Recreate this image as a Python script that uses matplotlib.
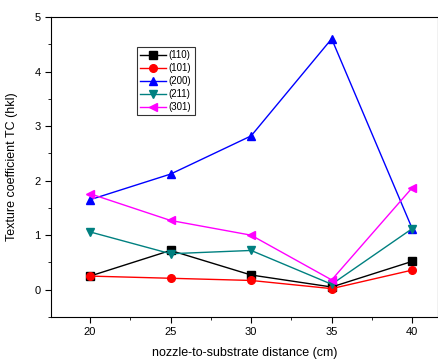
import matplotlib
matplotlib.use("Agg")
import matplotlib.pyplot as plt
from matplotlib.ticker import MultipleLocator

plt.rcParams['font.family'] = ['Liberation Sans', 'DejaVu Sans']

distance = [20, 25, 30, 35, 40]
tc_110 = [0.25, 0.72, 0.27, 0.05, 0.52]
tc_101 = [0.25, 0.21, 0.17, 0.02, 0.36]
tc_200 = [1.65, 2.12, 2.82, 4.60, 1.12]
tc_211 = [1.06, 0.66, 0.72, 0.10, 1.12]
tc_301 = [1.76, 1.27, 1.00, 0.18, 1.87]

labels = ['(110)', '(101)', '(200)', '(211)', '(301)']
colors = ['black', 'red', 'blue', '#008080', 'magenta']
markers = ['s', 'o', '^', 'v', '<']
series = [tc_110, tc_101, tc_200, tc_211, tc_301]

fig = plt.figure(figsize=(4.39, 3.6), dpi=100)
ax = fig.add_axes([51/439, 1 - 317/360, 387/439, 300/360])

for vals, lab, c, m in zip(series, labels, colors, markers):
    ax.plot(distance, vals, color=c, marker=m, markersize=5.5, linewidth=1, label=lab)

ax.set_xlim(17.58, 41.6)
ax.set_ylim(-0.5, 5)
ax.xaxis.set_major_locator(MultipleLocator(5))
ax.xaxis.set_minor_locator(MultipleLocator(2.5))
ax.yaxis.set_major_locator(MultipleLocator(1))
ax.yaxis.set_minor_locator(MultipleLocator(0.5))
ax.set_yticks([0, 1, 2, 3, 4, 5])
ax.tick_params(which='both', direction='out', labelsize=8, top=False, right=False)
ax.tick_params(which='major', length=4)
ax.tick_params(which='minor', length=2.5)

ax.set_xlabel('nozzle-to-substrate distance (cm)', fontsize=9, labelpad=7)
ax.set_ylabel('Texture coefficient TC (hkl)', fontsize=9, labelpad=12)

leg = ax.legend(loc='upper left', bbox_to_anchor=(0.222, 0.9), fontsize=7,
                frameon=True, fancybox=False, edgecolor='black',
                handlelength=2.6, handletextpad=0.3, borderpad=0.35,
                labelspacing=0.3, borderaxespad=0, markerscale=1.0)
leg.get_frame().set_linewidth(0.8)

fig.savefig('out.png', dpi=100)
